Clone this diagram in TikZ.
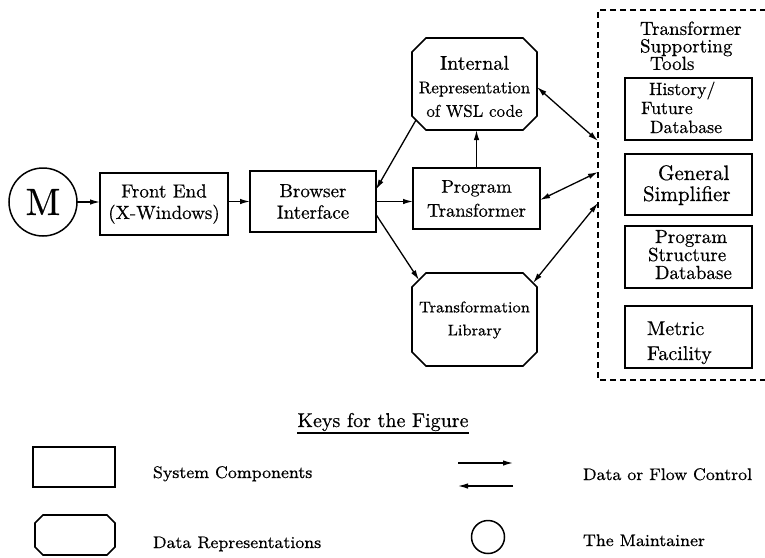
\documentclass[tikz,border=0pt]{standalone}
\usepackage{fontspec}
\setmainfont{lmroman10-regular}[Extension=.otf, FakeBold=0.5]
\newfontfamily\keyfont{lmroman8-regular}[Extension=.otf, FakeBold=0.5]
\usetikzlibrary{arrows.meta}

% font sizes used in the figure
\newcommand\boxfont{\fontsize{19}{21.5}\selectfont}
\newcommand\keytext{\keyfont\fontsize{16.8}{20}\selectfont}

% octagonal outline drawn on the border of a (frameless) rectangle node
\newcommand\octoframe[2]{%
  \draw[edge] ([xshift=#2]#1.north west) -- ([xshift=-#2]#1.north east)
    -- ([yshift=-#2]#1.north east) -- ([yshift=#2]#1.south east)
    -- ([xshift=-#2]#1.south east) -- ([xshift=#2]#1.south west)
    -- ([yshift=#2]#1.south west) -- ([yshift=-#2]#1.north west) -- cycle;}

\tikzset{
  edge/.style={line width=1.6pt, line join=miter},
  box/.style={draw, edge, rectangle, outer sep=0pt, inner sep=0pt},
  shell/.style={rectangle, outer sep=0pt, inner sep=0pt},
  txt/.style={inner sep=0pt, outer sep=0pt},
  tip/.tip={Latex[length=10pt,width=5.5pt]},
  flow/.style={line width=1.3pt, -tip},
  both/.style={line width=1.3pt, tip-tip},
  toolframe/.style={line width=1.4pt, dash pattern=on 6pt off 4pt},
}

\begin{document}
\begin{tikzpicture}[x=1pt,y=-1pt]
\useasboundingbox (0,0) rectangle (765,557);

% ---- main components ----
\node[draw, circle, line width=1.5pt, minimum size=68pt, inner sep=0pt, outer sep=0pt,
      font=\fontsize{38}{40}\selectfont] (M) at (43,202) {M};

\node[box, minimum width=128pt, minimum height=62pt, align=center, font=\boxfont]
  (FE) at (164,204) {Front End\\(X-Windows)};
\node[box, minimum width=126pt, minimum height=61pt, align=center, font=\boxfont]
  (BI) at (313,201.5) {Browser\\Interface};
\node[box, minimum width=127pt, minimum height=61pt, align=center,
      font=\fontsize{18.5}{24}\selectfont]
  (PT) at (476.5,198.5) {Program\\Transformer};

\node[shell, minimum width=125pt, minimum height=92pt] (IR) at (474.5,84) {};
\node[txt, align=center, font=\fontsize{17}{23.5}\selectfont] (IRtext) at (474.5,86.5)
  {{\fontsize{20}{23.5}\selectfont Internal}\\Representation\\of WSL code};
\octoframe{IR}{14pt}

\node[shell, minimum width=125pt, minimum height=93pt] (TL) at (474.5,319.5) {};
\node[txt, align=center, font=\keyfont\fontsize{15.5}{23}\selectfont] (TLtext) at (474.5,320)
  {Transformation\\Library};
\octoframe{TL}{14pt}

% ---- transformer supporting tools ----
\draw[toolframe] (766,10) -- (598,10) -- (598,380) -- (766,380);
\coordinate (t1) at (598,141);
\coordinate (t2) at (598,172);
\coordinate (t3) at (598,203);

\node[txt, anchor=north west, align=left, font=\fontsize{19}{17.5}\selectfont] (head) at (640,21.5)
  {Transformer\\Supporting\\\hspace*{10pt}Tools};

\node[box, minimum width=127pt, minimum height=62pt] (HF) at (688.5,109) {};
\node[txt, anchor=base west, font=\fontsize{17.8}{20}\selectfont] (hf1) at (649,95) {History/};
\node[txt, anchor=base west, font=\fontsize{17.8}{20}\selectfont] (hf2) at (641,114) {Future};
\node[txt, anchor=base west, font=\fontsize{17.8}{20}\selectfont] (hf3) at (650,133) {Database};

\node[box, minimum width=127pt, minimum height=61pt] (GS) at (688.5,184.5) {};
\node[txt, anchor=base west, font=\fontsize{21}{23}\selectfont] (gs1) at (658,180) {General};
\node[txt, anchor=base west, font=\fontsize{21}{23}\selectfont] (gs2) at (643,201) {Simplifier};

\node[box, minimum width=127pt, minimum height=62pt] (PS) at (688.5,257) {};
\node[txt, anchor=base west, font=\fontsize{19}{21}\selectfont] (ps1) at (655,243) {Program};
\node[txt, anchor=base west, font=\fontsize{19}{21}\selectfont] (ps2) at (648,261) {Structure};
\node[txt, anchor=base west, font=\fontsize{19}{21}\selectfont] (ps3) at (655,279) {Database};

\node[box, minimum width=127pt, minimum height=62pt] (MF) at (688.5,337) {};
\node[txt, anchor=base west, font=\fontsize{20}{22}\selectfont] (mf1) at (647,335) {Metric};
\node[txt, anchor=base west, font=\fontsize{20}{22}\selectfont] (mf2) at (647,360) {Facility};

% ---- connectors ----
\draw[flow] (M.east) -- (M.east -| FE.west);
\draw[flow] (FE.east |- BI.west) -- (BI.west);
\draw[flow] (BI.east) -- (BI.east -| PT.west);
\draw[flow] (PT.north) -- (PT.north |- IR.south);
\draw[flow] ([xshift=4pt,yshift=10pt]IR.south west) -- ([yshift=12pt]BI.east);
\draw[flow] ([yshift=-13pt]BI.east) -- ([xshift=7pt,yshift=-7pt]TL.north west);
\draw[both] ([yshift=-3pt]IR.east) -- (t1);
\draw[both] ([yshift=-1.5pt]PT.east) -- (t2);
\draw[both] ([xshift=-4pt,yshift=-10pt]TL.north east) -- (t3);

% ---- keys ----
\node[txt, anchor=base, font=\fontsize{20}{22}\selectfont] (keys) at (383,427) {Keys for the Figure};
\draw[line width=1.2pt] ([yshift=-6pt]keys.base west) -- ([yshift=-6pt]keys.base east);

\node[box, minimum width=82pt, minimum height=40pt] (krect) at (74,467) {};
\node[txt, anchor=base west, font=\keytext] (kl1) at (153,478) {System Components};

\node[shell, minimum width=80pt, minimum height=40pt] (koct) at (75,535) {};
\octoframe{koct}{8pt}
\node[txt, anchor=base west, font=\keytext] (kl2) at (153,548) {Data Representations};

\coordinate (ka1) at (458,463);
\coordinate (kb1) at (513,463);
\coordinate (ka2) at (458,486);
\coordinate (kb2) at (513,486);
\draw[flow] (ka1) -- (kb1);
\draw[flow] (kb2) -- (ka2);
\node[txt, anchor=base west, font=\keytext] (kl3) at (583,480) {Data or Flow Control};

\node[draw, circle, line width=1.5pt, minimum size=33pt, inner sep=0pt, outer sep=0pt] (kcirc) at (488,537) {};
\node[txt, anchor=base west, font=\keytext] (kl4) at (583,546) {The Maintainer};
\end{tikzpicture}
\end{document}
